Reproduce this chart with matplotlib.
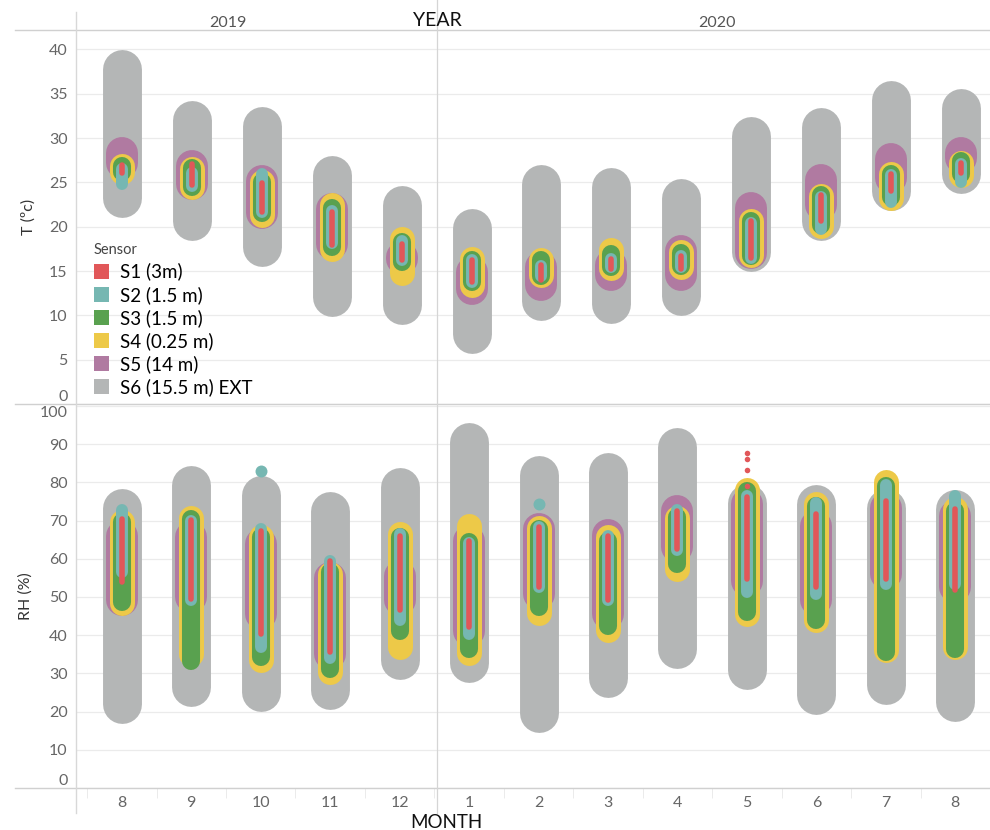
import matplotlib
matplotlib.use("Agg")
import matplotlib.pyplot as plt
from matplotlib.lines import Line2D
from matplotlib.patches import Patch

plt.rcParams['font.family'] = ['Lato', 'DejaVu Sans']

MONTHS = ["8", "9", "10", "11", "12", "1", "2", "3", "4", "5", "6", "7", "8"]
YEARS = ["2019", "2020"]
SENSORS = ["S1 (3m)", "S2 (1.5 m)", "S3 (1.5 m)", "S4 (0.25 m)", "S5 (14 m)", "S6 (15.5 m) EXT"]
COLORS = ["#e15759", "#76b7b2", "#59a14f", "#edc948", "#b07aa1", "#b4b6b6"]

# Temperature (ºC) monthly min / max per sensor
T_S1_MAX = [27.0, 27.1, 24.9, 21.7, 18.1, 16.2, 15.7, 16.4, 16.7, 20.6, 23.6, 26.0, 27.2]
T_S1_MIN = [26.1, 24.7, 21.7, 17.9, 16.3, 13.8, 14.0, 15.2, 15.2, 16.5, 20.7, 24.0, 26.1]
T_S2_MAX = [26.5, 26.1, 26.0, 21.8, 18.4, 16.2, 15.6, 16.4, 16.7, 20.4, 23.4, 25.8, 27.1]
T_S2_MIN = [24.8, 24.6, 21.7, 18.2, 16.3, 13.8, 14.4, 15.5, 15.5, 16.5, 19.7, 22.8, 25.1]
T_S3_MAX = [26.8, 26.6, 25.1, 22.1, 18.3, 16.2, 16.2, 16.9, 17.0, 20.7, 23.6, 26.0, 27.4]
T_S3_MIN = [26.2, 24.5, 21.5, 17.7, 16.0, 13.8, 14.4, 15.5, 15.6, 16.7, 20.2, 23.4, 26.0]
T_S4_MAX = [26.9, 26.5, 25.1, 22.4, 18.6, 16.4, 16.3, 17.4, 17.1, 20.7, 23.5, 25.9, 27.2]
T_S4_MIN = [26.2, 24.5, 21.3, 17.5, 14.8, 13.4, 14.5, 15.4, 15.5, 16.8, 20.1, 23.3, 25.8]
T_S5_MAX = [28.3, 26.9, 25.2, 22.0, 16.6, 14.9, 15.5, 15.7, 17.3, 22.1, 25.3, 27.6, 28.3]
T_S5_MIN = [27.2, 24.8, 21.5, 18.0, 16.4, 13.0, 13.4, 14.6, 14.6, 17.0, 22.5, 25.5, 27.8]
T_S6_MAX = [37.8, 32.1, 31.4, 25.8, 22.5, 19.9, 24.8, 24.5, 23.3, 30.2, 31.3, 34.3, 33.4]
T_S6_MIN = [23.3, 20.7, 17.7, 12.1, 11.2, 7.9, 11.6, 11.3, 12.2, 17.2, 20.7, 24.0, 25.9]

# Relative humidity (%) monthly min / max per sensor
RH_S1_MAX = [70.4, 70.2, 67.3, 59.5, 66.0, 64.7, 68.2, 66.0, 72.6, 76.1, 71.7, 75.2, 73.0]
RH_S1_MIN = [53.9, 49.5, 40.4, 35.6, 46.5, 42.1, 52.6, 49.1, 62.6, 54.8, 52.6, 54.8, 51.7]
RH_S2_MAX = [72.8, 69.9, 67.9, 59.4, 66.4, 64.2, 68.2, 66.0, 72.7, 76.5, 74.7, 79.3, 76.3]
RH_S2_MIN = [56.5, 49.1, 36.9, 33.9, 43.9, 40.4, 52.6, 49.1, 62.2, 51.3, 50.9, 53.5, 53.5]
RH_S3_MAX = [69.6, 70.4, 65.6, 56.5, 65.6, 64.3, 67.8, 64.7, 70.9, 77.8, 73.9, 79.0, 72.6]
RH_S3_MIN = [48.6, 33.2, 34.2, 31.2, 41.2, 36.4, 47.3, 42.5, 58.5, 46.0, 44.0, 35.5, 36.4]
RH_S4_MAX = [69.7, 70.6, 65.6, 56.0, 66.5, 68.7, 68.0, 65.6, 70.6, 78.1, 74.3, 80.2, 73.0]
RH_S4_MIN = [48.4, 35.1, 33.4, 30.3, 37.0, 35.3, 45.8, 41.4, 57.4, 45.6, 44.0, 36.0, 36.9]
RH_S5_MAX = [66.0, 65.6, 63.8, 55.0, 55.5, 64.7, 67.9, 66.2, 72.4, 74.3, 68.6, 73.4, 71.2]
RH_S5_MIN = [49.1, 50.0, 45.6, 35.0, 49.1, 41.2, 50.8, 45.6, 63.1, 54.3, 49.1, 56.1, 52.6]
RH_S6_MAX = [73.4, 79.3, 76.6, 72.5, 78.8, 90.6, 81.9, 82.8, 89.3, 74.7, 74.3, 73.4, 73.0]
RH_S6_MIN = [22.1, 26.4, 25.1, 25.7, 33.6, 32.7, 19.6, 28.9, 36.5, 31.0, 24.3, 26.9, 22.5]

# Isolated daily values (outliers)
RH_S2_OUT_MONTH = [2, 6]
RH_S2_OUT_VAL = [83.0, 74.4]
RH_S1_OUT_MONTH = [9, 9, 9, 9]
RH_S1_OUT_VAL = [87.7, 86.1, 83.1, 79.1]

T_MAX = [T_S1_MAX, T_S2_MAX, T_S3_MAX, T_S4_MAX, T_S5_MAX, T_S6_MAX]
T_MIN = [T_S1_MIN, T_S2_MIN, T_S3_MIN, T_S4_MIN, T_S5_MIN, T_S6_MIN]
RH_MAX = [RH_S1_MAX, RH_S2_MAX, RH_S3_MAX, RH_S4_MAX, RH_S5_MAX, RH_S6_MAX]
RH_MIN = [RH_S1_MIN, RH_S2_MIN, RH_S3_MIN, RH_S4_MIN, RH_S5_MIN, RH_S6_MIN]

LW = [4.0, 8.6, 13.0, 18.0, 23.0, 28.0]  # line widths (pt), S1..S6

W, H = 990, 830
fig = plt.figure(figsize=(W / 100, H / 100), dpi=100)


def fx(px):
    return px / W


def fy(py):
    return 1 - py / H


LEFT, RIGHT = 76, 990
ax_t = fig.add_axes([fx(LEFT), fy(404), fx(RIGHT - LEFT), (404 - 30) / H])
ax_h = fig.add_axes([fx(LEFT), fy(788), fx(RIGHT - LEFT), (788 - 404) / H])

xs = list(range(len(MONTHS)))
GRID = "#ebebeb"
TICKC = "#666666"

for ax, mins, maxs, ylim, yt in [
    (ax_t, T_MIN, T_MAX, (0, 42.2), list(range(0, 41, 5))),
    (ax_h, RH_MIN, RH_MAX, (0, 100.5), list(range(0, 101, 10))),
]:
    for si in range(5, -1, -1):
        for i in xs:
            ax.plot([i, i], [mins[si][i], maxs[si][i]], color=COLORS[si],
                    lw=LW[si], solid_capstyle="round", zorder=3 + (5 - si))
    ax.set_xlim(-0.66, 12.42)
    ax.set_ylim(*ylim)
    ax.set_yticks(yt)
    ax.grid(axis="y", color=GRID, lw=0.9, zorder=0)
    ax.tick_params(axis="y", length=0, pad=6, labelsize=11.5, labelcolor=TICKC)
    for s in ["top", "right", "left", "bottom"]:
        ax.spines[s].set_visible(False)
    ax.set_axisbelow(True)

# outliers
ax_h.plot(RH_S2_OUT_MONTH, RH_S2_OUT_VAL, "o", color=COLORS[1], ms=LW[1], mew=0, zorder=9)
ax_h.plot(RH_S1_OUT_MONTH, RH_S1_OUT_VAL, "o", color=COLORS[0], ms=LW[0], mew=0, zorder=10)

# ticks
ax_t.set_xticks([])
ax_h.set_xticks(xs)
ax_h.set_xticklabels(MONTHS)
ax_h.tick_params(axis="x", length=0, pad=6, labelsize=11.5, labelcolor=TICKC)
ax_h.set_xticks([i + 0.5 for i in range(-1, 13)], minor=True)
ax_h.tick_params(axis="x", which="minor", length=7, color="#e8e8e8")

# shift edge labels inside
ax_t.get_yticklabels()[0].set_va("bottom")
ax_h.get_yticklabels()[0].set_va("bottom")
ax_h.get_yticklabels()[-1].set_va("top")

ax_t.set_ylabel("T (ºc)", fontsize=11.5, color="#333333")
ax_h.set_ylabel("RH (%)", fontsize=11.5, color="#333333")
ax_t.yaxis.set_label_coords(-0.044, 0.5)
ax_h.yaxis.set_label_coords(-0.047, 0.5)

# figure-level lines: header, separators
for y in [30, 404, 788]:
    fig.add_artist(Line2D([fx(15), 1], [fy(y), fy(y)], color="#d0d0d0", lw=1))
fig.add_artist(Line2D([fx(LEFT), fx(LEFT)], [fy(12), fy(813)], color="#d8d8d8", lw=1))
fig.add_artist(Line2D([fx(437), fx(437)], [fy(0), fy(813)], color="#d5d5d5", lw=0.9))

# header text
fig.text(fx(228), fy(23), YEARS[0], ha="center", va="center", fontsize=11.5, color="#555555")
fig.text(fx(717), fy(23), YEARS[1], ha="center", va="center", fontsize=11.5, color="#555555")
fig.text(fx(437), fy(21), "YEAR", ha="center", va="center", fontsize=14, color="#111111")
fig.text(fx(446), fy(822), "MONTH", ha="center", va="center", fontsize=13.5, color="#111111")

# legend
handles = [Patch(facecolor=c, edgecolor="none") for c in COLORS]
leg = ax_t.legend(handles, SENSORS, title="Sensor", loc="upper left",
                  bbox_to_anchor=((86 - LEFT) / (RIGHT - LEFT), (404 - 236) / (404 - 30)),
                  frameon=False, fontsize=13.5, title_fontsize=10.5, handlelength=0.85,
                  handleheight=0.85, handletextpad=0.55, labelspacing=0.28,
                  alignment="left", borderaxespad=0)
leg.get_title().set_color("#444444")
leg.set_zorder(20)

fig.savefig("out.png", dpi=100)
